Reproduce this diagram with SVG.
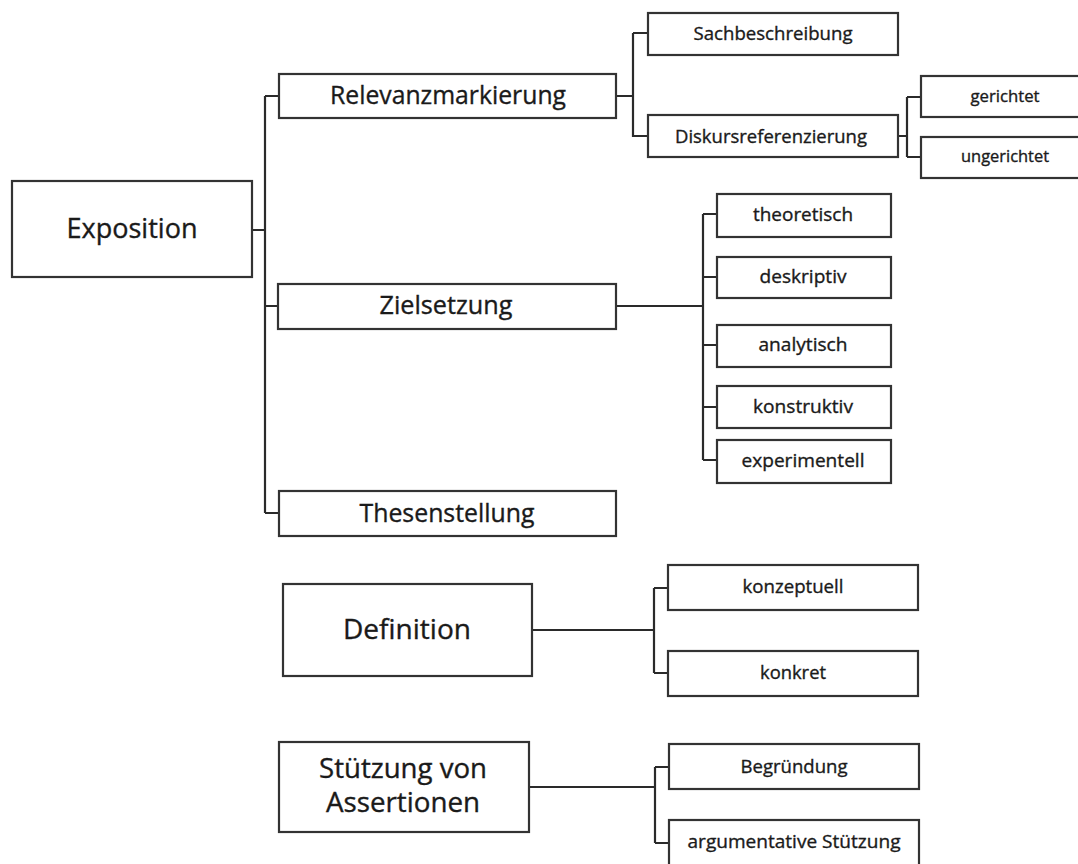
<svg xmlns="http://www.w3.org/2000/svg" width="1078" height="864" viewBox="0 0 1078 864">
<style>
.box{fill:#fff;stroke:#333;stroke-width:2.2}
.con{fill:none;stroke:#2a2a2a;stroke-width:2.2}
text{font-family:"Open Sans","Liberation Sans",sans-serif;fill:#1a1a1a;stroke:#1a1a1a;stroke-width:0.35;text-anchor:middle}
.l1{font-size:27px}
.l2{font-size:25px}
.l3{font-size:18.5px}
.l4{font-size:16px}
</style>
<rect width="1078" height="864" fill="#fff"/>
<g id="connectors">
<path class="con" d="M252,230H265M265,96V513M265,96H279M265,306H278M265,513H279"/>
<path class="con" d="M616,96H633M633,33V137M633,33H648M633,136H648"/>
<path class="con" d="M898,136H907M907,97V157M907,97H921M907,157H921"/>
<path class="con" d="M616,306H703M703,214V460M703,214H717M703,277H717M703,345H717M703,407H717M703,460H717"/>
<path class="con" d="M532,630H654M654,588V673M654,588H668M654,673H668"/>
<path class="con" d="M529,787H655M655,767V843M655,767H669M655,843H669"/>
</g>
<g id="exposition"><rect class="box" x="12" y="181" width="240" height="96"/><text class="l1" x="132" y="238" textLength="131" lengthAdjust="spacingAndGlyphs">Exposition</text></g>
<g id="relevanz"><rect class="box" x="279" y="74" width="337" height="44"/><text class="l2" x="448" y="104" textLength="236" lengthAdjust="spacingAndGlyphs">Relevanzmarkierung</text></g>
<g id="zielsetzung"><rect class="box" x="278" y="284" width="338" height="45"/><text class="l2" x="446" y="314" textLength="133" lengthAdjust="spacingAndGlyphs">Zielsetzung</text></g>
<g id="thesen"><rect class="box" x="279" y="491" width="337" height="45"/><text class="l2" x="447" y="522" textLength="175" lengthAdjust="spacingAndGlyphs">Thesenstellung</text></g>
<g id="sach"><rect class="box" x="648" y="13" width="250" height="42"/><text class="l3" x="773" y="40" textLength="159" lengthAdjust="spacingAndGlyphs">Sachbeschreibung</text></g>
<g id="diskurs"><rect class="box" x="648" y="115" width="250" height="42"/><text class="l3" x="771" y="143" textLength="192" lengthAdjust="spacingAndGlyphs">Diskursreferenzierung</text></g>
<g id="gerichtet"><rect class="box" x="921" y="76" width="170" height="41"/><text class="l4" x="1005" y="102" textLength="69" lengthAdjust="spacingAndGlyphs">gerichtet</text></g>
<g id="ungerichtet"><rect class="box" x="921" y="137" width="170" height="41"/><text class="l4" x="1005" y="162" textLength="88" lengthAdjust="spacingAndGlyphs">ungerichtet</text></g>
<g id="theoretisch"><rect class="box" x="717" y="194" width="174" height="43"/><text class="l3" x="803" y="221" textLength="100" lengthAdjust="spacingAndGlyphs">theoretisch</text></g>
<g id="deskriptiv"><rect class="box" x="717" y="257" width="174" height="41"/><text class="l3" x="803" y="283" textLength="87" lengthAdjust="spacingAndGlyphs">deskriptiv</text></g>
<g id="analytisch"><rect class="box" x="717" y="325" width="174" height="42"/><text class="l3" x="803" y="351" textLength="89" lengthAdjust="spacingAndGlyphs">analytisch</text></g>
<g id="konstruktiv"><rect class="box" x="717" y="386" width="174" height="42"/><text class="l3" x="803" y="413" textLength="100" lengthAdjust="spacingAndGlyphs">konstruktiv</text></g>
<g id="experimentell"><rect class="box" x="717" y="440" width="174" height="43"/><text class="l3" x="803" y="467" textLength="123" lengthAdjust="spacingAndGlyphs">experimentell</text></g>
<g id="definition"><rect class="box" x="283" y="584" width="249" height="92"/><text class="l1" x="407" y="639" textLength="128" lengthAdjust="spacingAndGlyphs">Definition</text></g>
<g id="konzeptuell"><rect class="box" x="668" y="565" width="250" height="45"/><text class="l3" x="793" y="593" textLength="101" lengthAdjust="spacingAndGlyphs">konzeptuell</text></g>
<g id="konkret"><rect class="box" x="668" y="651" width="250" height="45"/><text class="l3" x="793" y="679" textLength="66" lengthAdjust="spacingAndGlyphs">konkret</text></g>
<g id="stuetzung"><rect class="box" x="279" y="742" width="250" height="90"/><text class="l1" x="403" y="778" textLength="168" lengthAdjust="spacingAndGlyphs">Stützung von</text><text class="l1" x="403" y="812" textLength="154" lengthAdjust="spacingAndGlyphs">Assertionen</text></g>
<g id="begruendung"><rect class="box" x="669" y="744" width="250" height="45"/><text class="l3" x="794" y="773" textLength="107" lengthAdjust="spacingAndGlyphs">Begründung</text></g>
<g id="argumentative"><rect class="box" x="669" y="820" width="250" height="46"/><text class="l3" x="794" y="848" textLength="213" lengthAdjust="spacingAndGlyphs">argumentative Stützung</text></g>
</svg>
